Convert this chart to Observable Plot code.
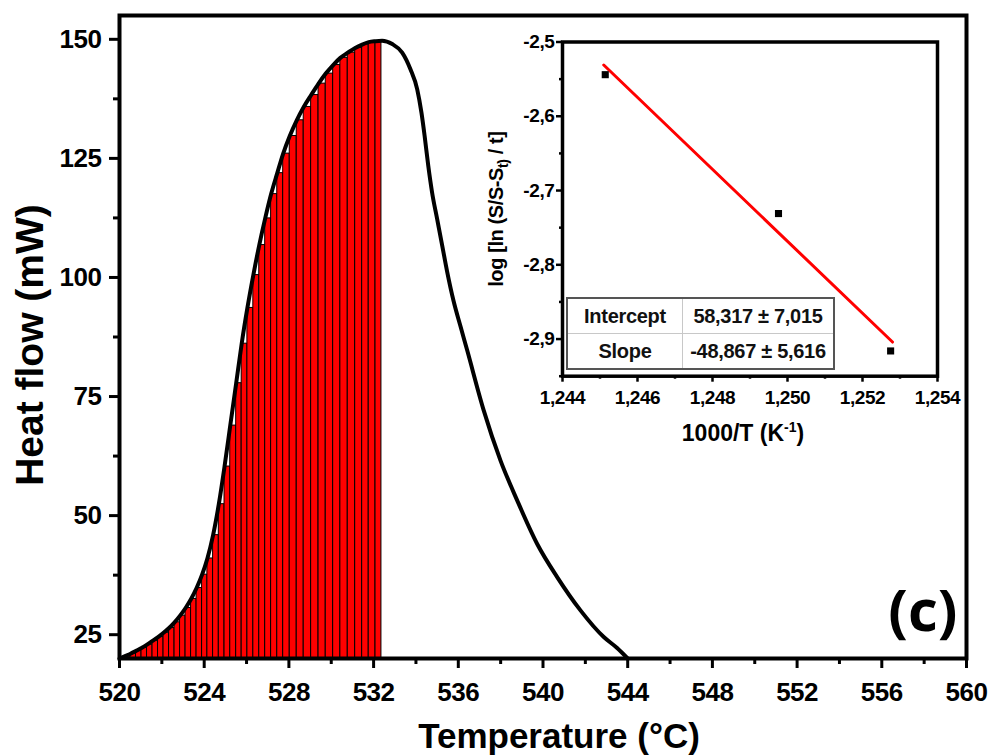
<!DOCTYPE html>
<html>
<head>
<meta charset="utf-8">
<script src="https://cdn.jsdelivr.net/npm/d3@7"></script>
<script src="https://cdn.jsdelivr.net/npm/@observablehq/plot@0.6"></script>
<style>
  html, body { margin: 0; padding: 0; background: #fff; }
  #wrap { position: relative; width: 996px; height: 756px; font-family: "Liberation Sans", Arial, sans-serif; }
  #wrap svg { position: absolute; }
  #fit { position: absolute; left: 566px; top: 297px; width: 269px; height: 70px; border-collapse: collapse;
         border: 2px solid #555; font: bold 20px "Liberation Sans", Arial, sans-serif; color: #111; table-layout: fixed; }
  #fit td { border: 1px solid #c8c8c8; text-align: center; padding: 0; height: 34px; letter-spacing: -0.3px; }
  #fit td.c1 { width: 114px; }
</style>
</head>
<body>
<div id="wrap"></div>
<script>
// ---------- main chart data ----------
const tempTicks = [520, 524, 528, 532, 536, 540, 544, 548, 552, 556, 560];
const tempMinor = [522, 526, 530, 534, 538, 542, 546, 550, 554, 558];
const heatTicks = [25, 50, 75, 100, 125, 150];
const heatMinor = [37.5, 62.5, 87.5, 112.5, 137.5];
const baseline = 20;

// bar edges (°C) and bar heights (mW)
const barEdges = [520.00, 520.26, 520.52, 520.78, 521.04, 521.30, 521.56, 521.82, 522.08, 522.34,
  522.60, 522.86, 523.12, 523.38, 523.64, 523.90, 524.15, 524.42, 524.69, 524.96,
  525.23, 525.51, 525.77, 526.04, 526.32, 526.60, 526.88, 527.16, 527.45, 527.73,
  528.04, 528.37, 528.70, 529.05, 529.40, 529.74, 530.09, 530.43, 530.78, 531.13,
  531.46, 531.77, 532.09, 532.37];
const barHeights = [20.1, 20.5, 21.0, 21.6, 22.2, 22.9, 23.7, 24.5, 25.4, 26.4,
  27.6, 29.0, 30.6, 32.5, 34.8, 37.6, 41.0, 45.9, 52.4, 60.3,
  68.9, 77.8, 86.1, 93.6, 100.5, 106.8, 112.4, 117.5, 121.9, 126.0,
  129.7, 133.0, 135.8, 138.3, 140.7, 142.8, 144.6, 146.1, 147.2, 148.2,
  148.9, 149.4, 149.5];

// DSC curve
const curveT = [520.00, 520.26, 520.52, 520.78, 521.04, 521.30, 521.56, 521.82, 522.08, 522.34,
  522.60, 522.86, 523.12, 523.38, 523.64, 523.90, 524.15, 524.42, 524.69, 524.96,
  525.23, 525.51, 525.77, 526.04, 526.32, 526.60, 526.88, 527.16, 527.45, 527.73,
  528.04, 528.37, 528.70, 529.05, 529.40, 529.74, 530.09, 530.43, 530.78, 531.13,
  531.46, 531.77, 532.09, 532.40, 532.88, 533.35, 533.74, 534.06, 534.26, 534.41,
  534.58, 534.76, 535.00, 535.24, 535.47, 535.78, 536.10, 536.42, 537.20, 537.99,
  538.78, 539.72, 540.67, 541.77, 542.87, 543.50, 544.00];
const curveV = [20.0, 20.5, 21.0, 21.6, 22.2, 22.9, 23.7, 24.5, 25.4, 26.4,
  27.6, 29.0, 30.6, 32.5, 34.8, 37.6, 41.0, 45.9, 52.4, 60.3,
  68.9, 77.8, 86.1, 93.6, 100.5, 106.8, 112.4, 117.5, 121.9, 126.0,
  129.7, 133.0, 135.8, 138.3, 140.7, 142.8, 144.6, 146.1, 147.2, 148.2,
  148.9, 149.4, 149.6, 149.7, 149.0, 147.2, 143.7, 139.5, 134.6, 129.7,
  123.5, 117.9, 112.3, 106.7, 101.3, 95.0, 89.8, 84.7, 72.1, 61.6,
  53.2, 44.1, 37.1, 30.1, 24.5, 22.2, 20.0];

// ---------- inset data ----------
const invTTicks = [1.244, 1.246, 1.248, 1.250, 1.252, 1.254];
const invTMinor = [1.245, 1.247, 1.249, 1.251, 1.253];
const logTicks = [-2.5, -2.6, -2.7, -2.8, -2.9];
const logMinor = [-2.55, -2.65, -2.75, -2.85, -2.95];
const invT = [1.24514, 1.24976, 1.25275];
const logRate = [-2.544, -2.731, -2.916];
const fitT = [1.2451, 1.2528];
const fitV = [-2.531, -2.904];
const fitLabels = ["Intercept", "Slope"];
const fitValues = ["58,317 ± 7,015", "-48,867 ± 5,616"];

const FONT = "'Liberation Sans', Arial, sans-serif";
const comma = (d, n) => d.toFixed(n).replace(".", ",");

const bars = barHeights.map((h, i) => ({t0: barEdges[i], t1: barEdges[i + 1], h, base: baseline}));
const curve = curveT.map((t, i) => ({t, v: curveV[i]}));

const main = Plot.plot({
  width: 996, height: 756,
  marginLeft: 119, marginRight: 30, marginTop: 15, marginBottom: 98,
  x: {domain: [520, 560], label: null},
  y: {domain: [20, 155], label: null},
  style: {fontFamily: FONT, fontWeight: "bold", color: "#000", background: "transparent", overflow: "visible"},
  marks: [
    Plot.rect(bars, {x1: "t0", x2: "t1", y1: "base", y2: "h", fill: "#ff0000", stroke: "#000", strokeWidth: 1}),
    Plot.line(curve, {x: "t", y: "v", stroke: "#000", strokeWidth: 4, curve: "monotone-x"}),
    Plot.axisX({ticks: tempTicks, tickSize: 10, tickPadding: 14, tickFormat: d => String(d), fontSize: 26, fontWeight: "bold", strokeWidth: 3, label: null}),
    Plot.axisX({ticks: tempMinor, tickSize: 6, tickFormat: () => "", strokeWidth: 3, label: null}),
    Plot.axisY({ticks: heatTicks, tickSize: 10, tickPadding: 8, tickFormat: d => String(d), fontSize: 26, fontWeight: "bold", strokeWidth: 3, label: null}),
    Plot.axisY({ticks: heatMinor, tickSize: 6, tickFormat: () => "", strokeWidth: 3, label: null}),
    Plot.frame({stroke: "#000", strokeWidth: 4}),
    Plot.text(["Heat flow (mW)"], {text: d => d, frameAnchor: "left", textAnchor: "middle", lineAnchor: "middle", dx: -89, dy: 8, rotate: -90, fontSize: 39, fontWeight: "bold"}),
    Plot.text(["Temperature (°C)"], {text: d => d, frameAnchor: "bottom", textAnchor: "middle", lineAnchor: "middle", dx: 16, dy: 78, fontSize: 35, fontWeight: "bold"}),
    Plot.text(["(c)"], {text: d => d, frameAnchor: "bottom-right", dx: -9, dy: -28, textAnchor: "end", lineAnchor: "bottom", fontSize: 58, fontWeight: "bold", fontFamily: "'Open Sans', sans-serif"})
  ]
});
main.style.left = "0px"; main.style.top = "0px";

const pts = invT.map((x, i) => ({x, y: logRate[i]}));
const fit = fitT.map((x, i) => ({x, y: fitV[i]}));

const inset = Plot.plot({
  width: 490, height: 440,
  marginLeft: 92, marginRight: 23, marginTop: 21.5, marginBottom: 84.3,
  x: {domain: [1.244, 1.254], label: null},
  y: {domain: [-2.95, -2.5], label: null},
  style: {fontFamily: FONT, fontWeight: "bold", color: "#000", background: "transparent", overflow: "visible"},
  marks: [
    Plot.line(fit, {x: "x", y: "y", stroke: "#ff0000", strokeWidth: 3}),
    Plot.dot(pts, {x: "x", y: "y", symbol: "square", r: 4, fill: "#000"}),
    Plot.axisX({ticks: invTTicks, tickSize: 6, tickPadding: 8, tickFormat: d => comma(d, 3), fontSize: 19, fontWeight: "bold", strokeWidth: 2.5, label: null}),
    Plot.axisX({ticks: invTMinor, tickSize: 3, tickFormat: () => "", strokeWidth: 2.5, label: null}),
    Plot.axisY({ticks: logTicks, tickSize: 6, tickPadding: 2, tickFormat: d => comma(d, 1), fontSize: 19, fontWeight: "bold", strokeWidth: 2.5, label: null}),
    Plot.axisY({ticks: logMinor, tickSize: 3, tickFormat: () => "", strokeWidth: 2.5, label: null}),
    Plot.frame({stroke: "#000", strokeWidth: 3.5}),
    Plot.text(["log [ln (S/S-St) / t]"], {text: d => d, frameAnchor: "left", textAnchor: "middle", lineAnchor: "middle", dx: -66, rotate: -90, fontSize: 20, fontWeight: "bold"}),
    Plot.text(["1000/T (K-1)"], {text: d => d, frameAnchor: "bottom", textAnchor: "middle", lineAnchor: "middle", dx: -7, dy: 57, fontSize: 23, fontWeight: "bold"})
  ]
});
inset.style.left = "470px"; inset.style.top = "20px";

const wrap = document.getElementById("wrap");
wrap.appendChild(main);
wrap.appendChild(inset);

// tick-label fonts (ensure)
d3.select(main).selectAll('g[aria-label="x-axis tick label"], g[aria-label="y-axis tick label"]')
  .style("font-size", "26px").style("font-weight", "bold").style("letter-spacing", "-0.5px");
d3.select(inset).selectAll('g[aria-label="x-axis tick label"], g[aria-label="y-axis tick label"]')
  .style("font-size", "19px").style("font-weight", "bold").style("letter-spacing", "-0.4px");

// rich text: subscript / superscript
d3.select(inset).selectAll("text").each(function() {
  const t = d3.select(this);
  if (this.textContent === "log [ln (S/S-St) / t]") {
    t.text(null).style("letter-spacing", "-0.4px");
    t.append("tspan").text("log [ln (S/S-S");
    t.append("tspan").attr("font-size", 14).attr("dy", 5).text("t)");
    t.append("tspan").attr("dy", -5).text(" / t]");
  } else if (this.textContent === "1000/T (K-1)") {
    t.text(null);
    t.append("tspan").text("1000/T (K");
    t.append("tspan").attr("font-size", 14).attr("dy", -9).text("-1");
    t.append("tspan").attr("dy", 9).text(")");
  }
});

// regression table
const table = document.createElement("table");
table.id = "fit";
fitLabels.forEach((lab, i) => {
  const tr = table.insertRow();
  const c1 = tr.insertCell(); c1.className = "c1"; c1.textContent = lab;
  const c2 = tr.insertCell(); c2.textContent = fitValues[i];
});
wrap.appendChild(table);
</script>
</body>
</html>
